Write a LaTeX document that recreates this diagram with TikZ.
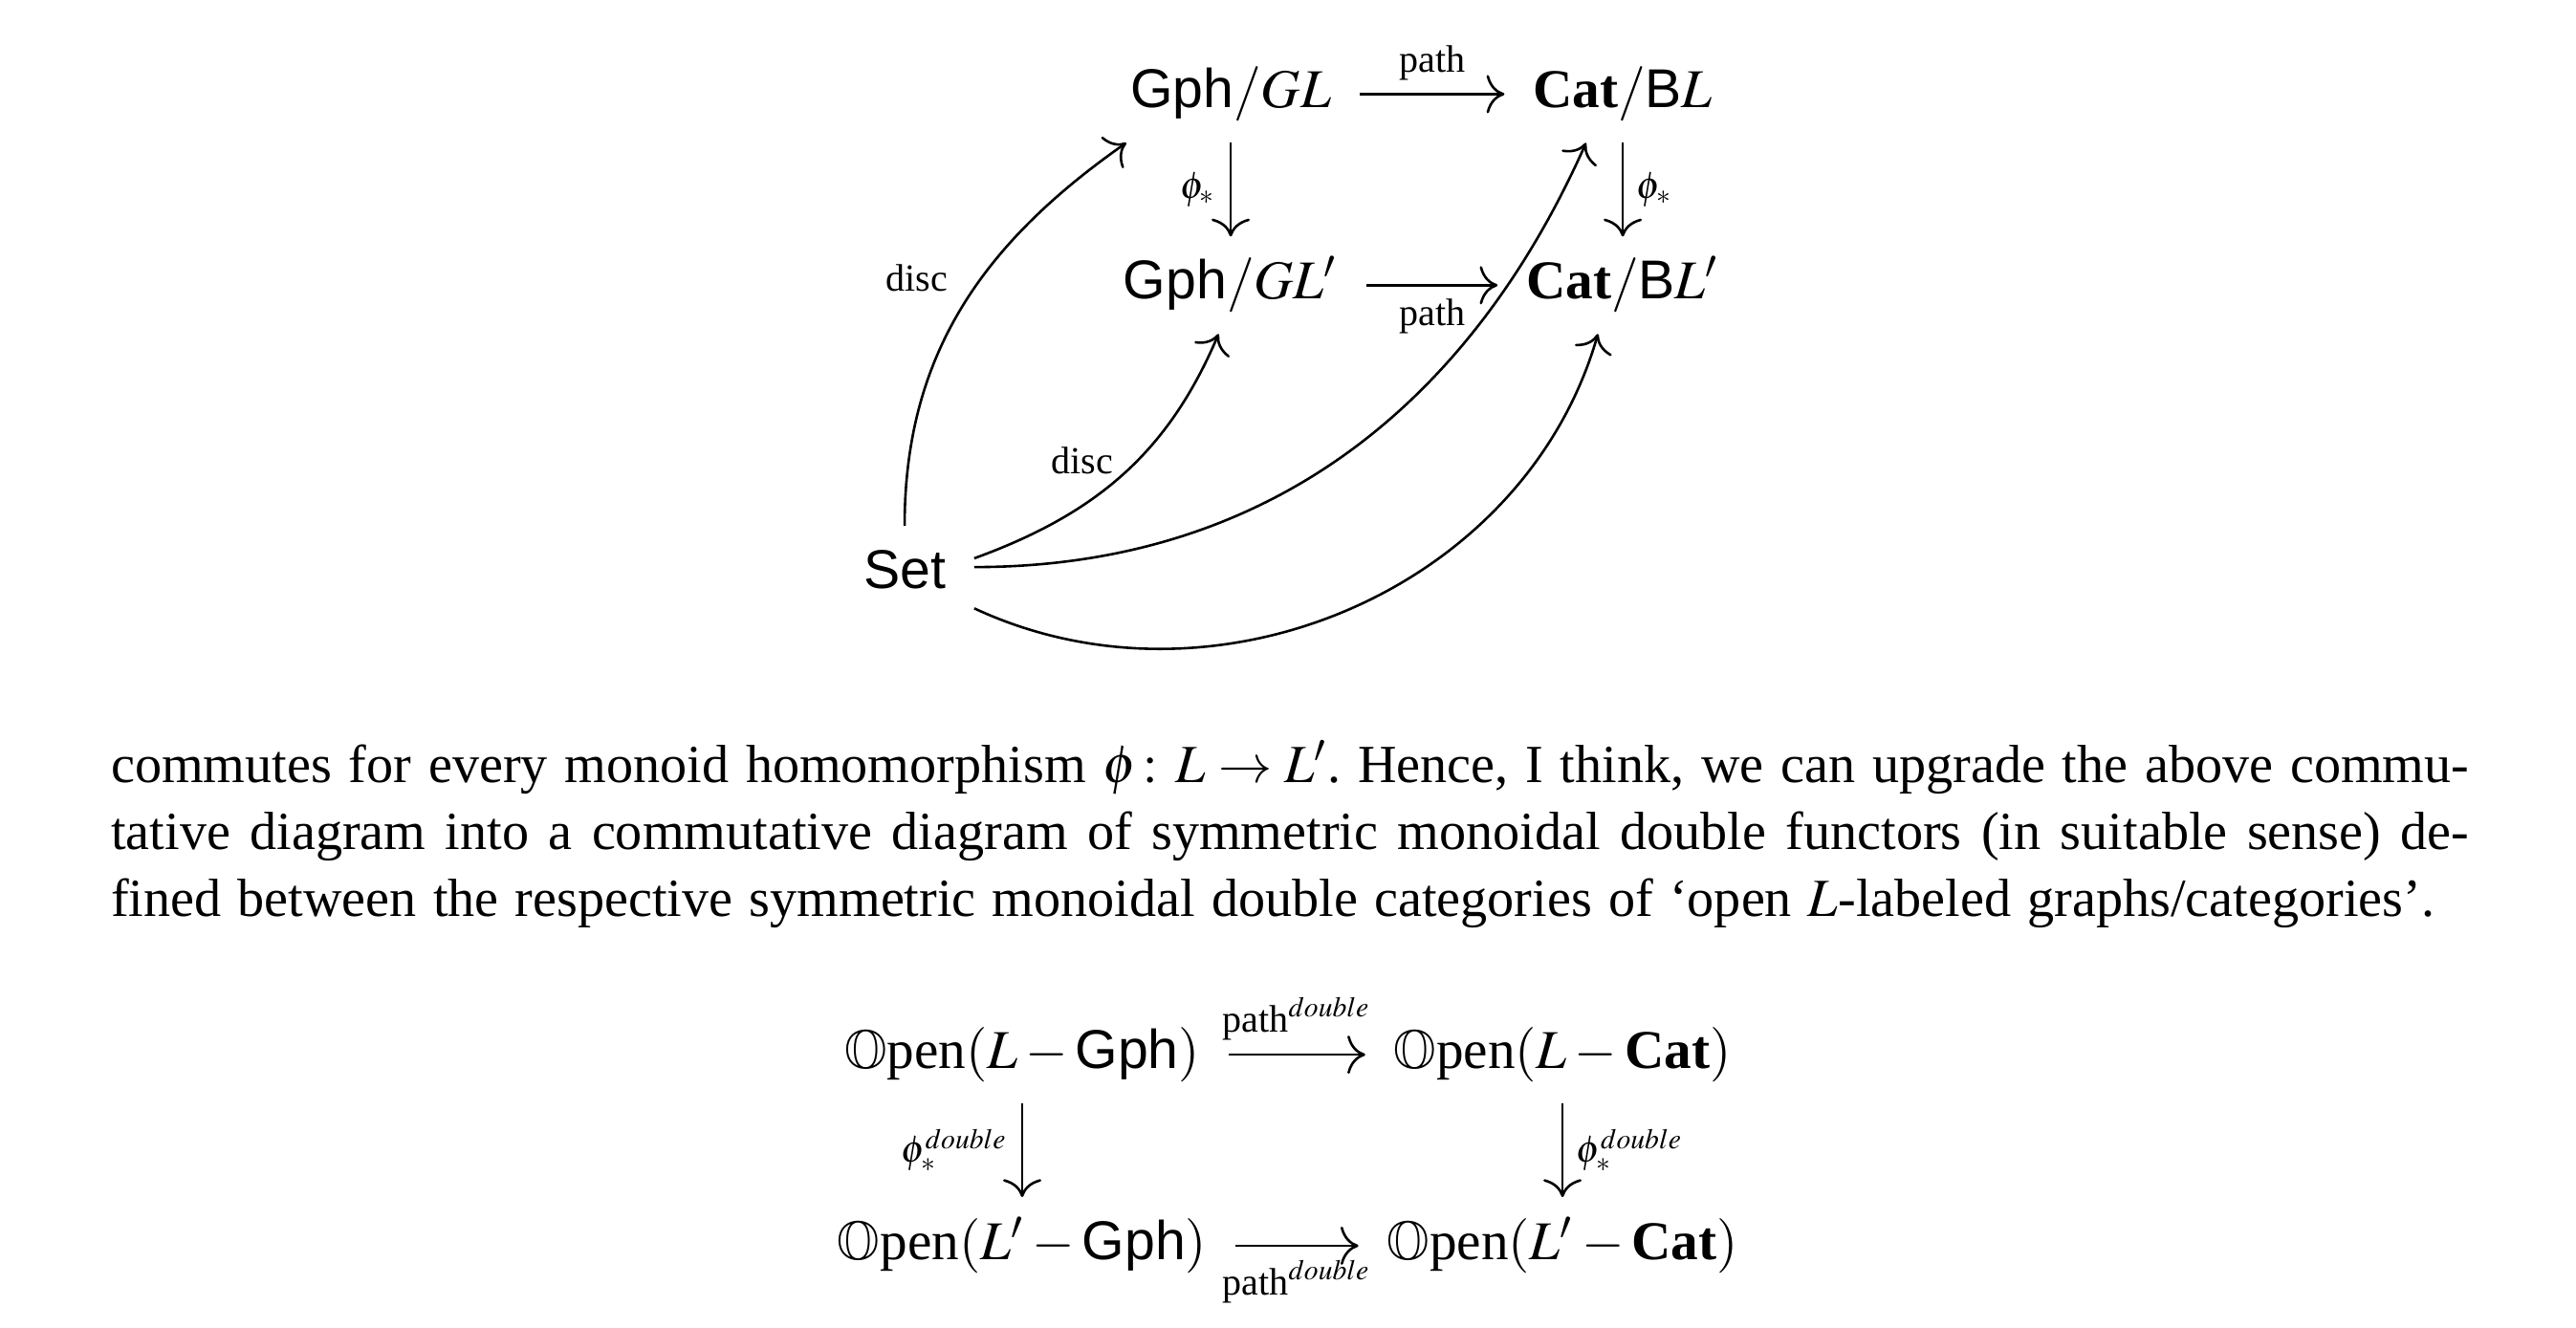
\documentclass[tikz,border=0pt]{standalone}
\usepackage{mathptmx}
\usepackage{amsmath,amssymb}
\usepackage{fontspec}
\setmainfont{Liberation Serif}
\setsansfont{Liberation Sans}
\usetikzlibrary{arrows.meta}

\begin{document}
\begin{tikzpicture}[>={Computer Modern Rightarrow[length=3.6pt,width=7.7pt]},line width=0.5pt]
    \tikzstyle{obj} = [anchor=base,font=\fontsize{11}{13}\selectfont,inner xsep=5.5pt,inner ysep=3.5pt,text height=8.8pt,text depth=3.3pt]
    \tikzstyle{lbl} = [font=\fontsize{7.7}{9}\selectfont,inner sep=2.6pt]
    \tikzstyle{map} = [->]
      \useasboundingbox (0,0) rectangle (18.208,-9.381);
      % first square and Set
      \node[obj] (gphGL) at (8.699,-0.762) {$\textsf{Gph}/GL$};
      \node[obj] (catBL) at (11.47,-0.762) {$\textbf{Cat}/\textsf{B}L$};
      \node[obj] (gphGLp) at (8.699,-2.113) {$\textsf{Gph}/GL'$};
      \node[obj] (catBLp) at (11.47,-2.113) {$\textbf{Cat}/\textsf{B}L'$};
      \node[obj] (set) at (6.394,-4.157) {$\textsf{Set}$};
      \draw[map] (gphGL) -- (catBL) node [midway,above,lbl] {$\text{path}$};
      \draw[map] (gphGLp) -- (catBLp) node [midway,below,lbl] {$\text{path}$};
      \draw[map] (gphGL) -- (gphGLp) node [midway,left,lbl] {$\phi_*$};
      \draw[map] (catBL) -- (catBLp) node [midway,right,lbl] {$\phi_*$};
      \draw[map] (set.north) to[out=90,in=215] node [pos=0.58,left=4pt,lbl] {$\text{disc}$} (gphGL.205);
      \draw[map] (set.13) to[out=20,in=247] node [pos=0.56,left=2pt,lbl] {$\text{disc}$} (gphGLp.256);
      \draw[map] (set.6) to[out=0,in=246] (catBL.233);
      \draw[map] (set.-26) to[out=-25,in=254] (catBLp.243);
      % text between the diagrams
      \node[text width=474.2pt,align=justify,anchor=north west,inner sep=0pt,font=\fontsize{10.8}{13.46}\selectfont] (para) at (0.777,-5.189) {\frenchspacing\spaceskip=3.3pt plus 1.5pt minus 0.9pt\relax\noindent\strut commutes for every monoid homomorphism $\phi\colon L\to L'$. Hence, I think, we can upgrade the above commu-\linebreak tative diagram into a commutative diagram of symmetric monoidal double functors (in suitable sense) de-\linebreak fined between the respective symmetric monoidal double categories of `open $L$-labeled graphs/categories'.};
      % double square
      \node[obj] (openLG) at (7.225,-7.552) {$\mathbb{O}\text{pen}(L-\textsf{Gph})$};
      \node[obj] (openLC) at (11.044,-7.552) {$\mathbb{O}\text{pen}(L-\textbf{Cat})$};
      \node[obj] (openLpG) at (7.225,-8.903) {$\mathbb{O}\text{pen}(L'-\textsf{Gph})$};
      \node[obj] (openLpC) at (11.044,-8.903) {$\mathbb{O}\text{pen}(L'-\textbf{Cat})$};
      \draw[map] (openLG) -- (openLC) node [midway,above,lbl] {$\text{path}^{double}$};
      \draw[map] (openLpG) -- (openLpC) node [midway,below,lbl] {$\text{path}^{double}$};
      \draw[map] (openLG) -- (openLpG) node [midway,left,lbl] {$\phi_*^{double}$};
      \draw[map] (openLC) -- (openLpC) node [midway,right,lbl] {$\phi_*^{double}$};
  \end{tikzpicture}
\end{document}
